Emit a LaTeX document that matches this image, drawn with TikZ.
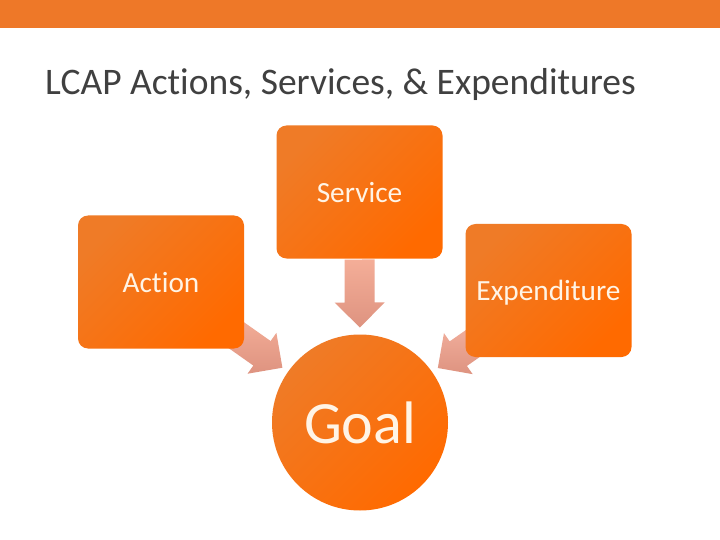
\documentclass[tikz,border=0pt]{standalone}
\usepackage{fontspec}
\setmainfont{Carlito}[RawFeature={-liga;-dlig;-clig}]
\usetikzlibrary{calc,backgrounds}
\definecolor{barorange}{HTML}{EE7828}
\definecolor{boxA}{HTML}{EF7B27}
\definecolor{boxB}{HTML}{FF6A00}
\definecolor{labelcol}{HTML}{FFF4E6}
\definecolor{titlecol}{HTML}{404040}
\definecolor{arrA}{HTML}{F4AE98}
\definecolor{arrB}{HTML}{DE9380}
\definecolor{arrC}{HTML}{F5B4A2}
\tikzset{
  stagebox/.style={rounded corners=10pt, minimum width=166pt, minimum height=133pt,
    inner sep=0pt, top color=boxA, bottom color=boxB, shading angle=45,
    text=labelcol, font=\fontsize{29.3}{31}\selectfont, text depth=0pt},
  goalnode/.style={circle, minimum size=176pt, inner sep=0pt,
    top color=boxA, bottom color=boxB, shading angle=45,
    text=labelcol, font=\fontsize{60}{62}\selectfont, text depth=0pt},
  arrowfill/.style={top color=#1, bottom color=arrB},
  arrowfill/.default=arrA
}
\newcommand{\blkarrow}[3]{%
  \path ($(#2.center)!95pt!(#1.center)$) coordinate (t)
        ($(#2.center)!120pt!(#1.center)$) coordinate (h)
        ($(#2.center)!163pt!(#1.center)$) coordinate (b);
  \path[arrowfill=#3] (t) -- ($(h)!25pt!90:(t)$) -- ($(h)!15pt!90:(t)$)
     -- ($(b)!15pt!90:(t)$) -- ($(b)!15pt!-90:(t)$) -- ($(h)!15pt!-90:(t)$)
     -- ($(h)!25pt!-90:(t)$) -- cycle;
}
\begin{document}
\begin{tikzpicture}[x=1pt,y=-1pt]
\useasboundingbox (0,0) rectangle (720,540);
\fill[barorange] (0,0) rectangle (720,28);
\node[anchor=base west, inner sep=0pt, text=titlecol, font=\fontsize{37.5}{40}\selectfont] (title) at (45,95) {LCAP Actions, Services, \& Expenditures};
\node[stagebox] (service) at (359.5,192) {Service};
\node[stagebox] (action) at (161,282) {Action};
\node[stagebox] (expend) at (548.5,290.5) {Expenditure};
\node[goalnode] (goal) at (360,422.5) {Goal};
\begin{scope}[on background layer]
  \fill[white] (0,28) rectangle (720,540);
  \blkarrow{service}{goal}{arrA}
  \blkarrow{action}{goal}{arrA}
  \blkarrow{expend}{goal}{arrC}
\end{scope}
\end{tikzpicture}
\end{document}
